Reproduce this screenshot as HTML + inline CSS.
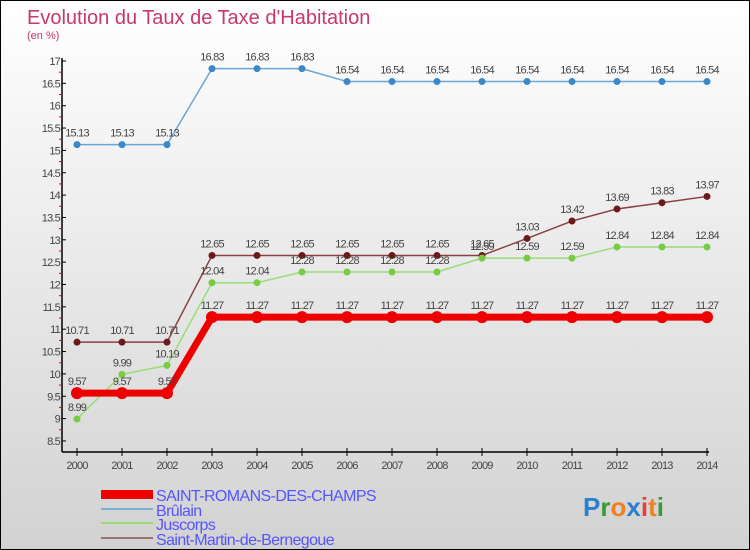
<!DOCTYPE html>
<html><head><meta charset="utf-8"><style>
body{margin:0}
#wrap{width:748px;height:548px;border:1px solid #000;background:linear-gradient(#fff,#d2d2d2);position:relative;overflow:hidden;font-family:"Liberation Sans",sans-serif}
</style></head><body>
<div id="wrap">
<svg id="svg" width="748" height="548" xmlns="http://www.w3.org/2000/svg" font-family="Liberation Sans, sans-serif">
<text x="26" y="23" font-size="20" fill="#c8386a">Evolution du Taux de Taxe d'Habitation</text>
<text x="26" y="38" font-size="11" fill="#c8386a">(en %)</text>
<g id="axes"></g><g id="series"></g>
<g>
<rect x="100" y="489" width="52" height="9" fill="#e00"/>
<text x="155" y="500" font-size="16" letter-spacing="-0.6" fill="#5555ff">SAINT-ROMANS-DES-CHAMPS</text>
<line x1="100" y1="508" x2="152" y2="508" stroke="#7aaed8" stroke-width="2"/>
<text x="155" y="515" font-size="16" letter-spacing="-0.6" fill="#5555ff">Brûlain</text>
<line x1="100" y1="522" x2="152" y2="522" stroke="#99dd77" stroke-width="2"/>
<text x="155" y="529" font-size="16" letter-spacing="-0.6" fill="#5555ff">Juscorps</text>
<line x1="100" y1="537" x2="152" y2="537" stroke="#a07070" stroke-width="2"/>
<text x="155" y="544" font-size="16" letter-spacing="-0.6" fill="#5555ff">Saint-Martin-de-Bernegoue</text>
</g>
<text x="582" y="515" font-size="26" font-weight="bold"><tspan fill="#2a7fd0">P</tspan><tspan fill="#3a9a3a">r</tspan><tspan fill="#f08020">o</tspan><tspan fill="#2a7fd0">x</tspan><tspan fill="#e04040">i</tspan><tspan fill="#f08020">t</tspan><tspan fill="#3a9a3a">i</tspan></text>
</svg>
</div>
<script>
const years=[2000,2001,2002,2003,2004,2005,2006,2007,2008,2009,2010,2011,2012,2013,2014];
const yTicks=[8.5,9,9.5,10,10.5,11,11.5,12,12.5,13,13.5,14,14.5,15,15.5,16,16.5,17];
const saintRomans=[9.57,9.57,9.57,11.27,11.27,11.27,11.27,11.27,11.27,11.27,11.27,11.27,11.27,11.27,11.27];
const brulain=[15.13,15.13,15.13,16.83,16.83,16.83,16.54,16.54,16.54,16.54,16.54,16.54,16.54,16.54,16.54];
const juscorps=[8.99,9.99,10.19,12.04,12.04,12.28,12.28,12.28,12.28,12.59,12.59,12.59,12.84,12.84,12.84];
const saintMartin=[10.71,10.71,10.71,12.65,12.65,12.65,12.65,12.65,12.65,12.65,13.03,13.42,13.69,13.83,13.97];
const NS="http://www.w3.org/2000/svg";
const xS=i=>76+i*45;
const yS=v=>60+(17-v)*44.7;
function mk(t,a,p){const e=document.createElementNS(NS,t);for(const k in a)e.setAttribute(k,a[k]);p.appendChild(e);return e;}
const ax=document.getElementById('axes');
let yl=mk('line',{x1:61,y1:57,x2:61,y2:451,stroke:'#000','stroke-width':1.5},ax);


let xl=mk('line',{x1:61,y1:451,x2:708,y2:451,stroke:'#000','stroke-width':1.5},ax);


yTicks.forEach(v=>{
 mk('line',{x1:61,y1:yS(v),x2:65,y2:yS(v),stroke:'#000'},ax);
 if(v<17)mk('line',{x1:58,y1:yS(v+0.25),x2:61,y2:yS(v+0.25),stroke:'#e00'},ax);
 const t=mk('text',{x:59,y:yS(v)+4,'font-size':11,'text-anchor':'end',fill:'#444','letter-spacing':'-0.8'},ax);
 t.textContent=String(v);
 
 
});
years.forEach((y,i)=>{
 mk('line',{x1:xS(i),y1:447,x2:xS(i),y2:455,stroke:'#000'},ax);
 const t=mk('text',{x:xS(i),y:468,'font-size':11,'text-anchor':'middle',fill:'#444','letter-spacing':'-0.8'},ax);
 t.textContent=String(y);
 
 
});
const sg=document.getElementById('series');
function series(vals,color,dot,w,r,name){
 const g=mk('g',{},sg);
 
 
 mk('polyline',{points:vals.map((v,i)=>xS(i)+','+yS(v)).join(' '),fill:'none',stroke:color,'stroke-width':w,'stroke-linejoin':'round'},g);
 vals.forEach((v,i)=>{
  const c=mk('circle',{cx:xS(i),cy:yS(v),r:r,fill:dot},g);
  
  
  const t=mk('text',{x:xS(i),y:yS(v)-8,'font-size':11,'text-anchor':'middle',fill:'#444','letter-spacing':'-0.8'},g);
  t.textContent=v.toFixed(2);
  
  
 });
}
series(brulain,'#6aa6d8','#3a88c8',1.5,3.5,'series-brulain');
series(saintMartin,'#8a4040','#6a1a1a',1.5,3.5,'series-saint-martin');
series(juscorps,'#99dd77','#77cc44',1.5,3.5,'series-juscorps');
series(saintRomans,'#ee0000','#ee0000',7,6,'series-saint-romans');
</script>
</body></html>
